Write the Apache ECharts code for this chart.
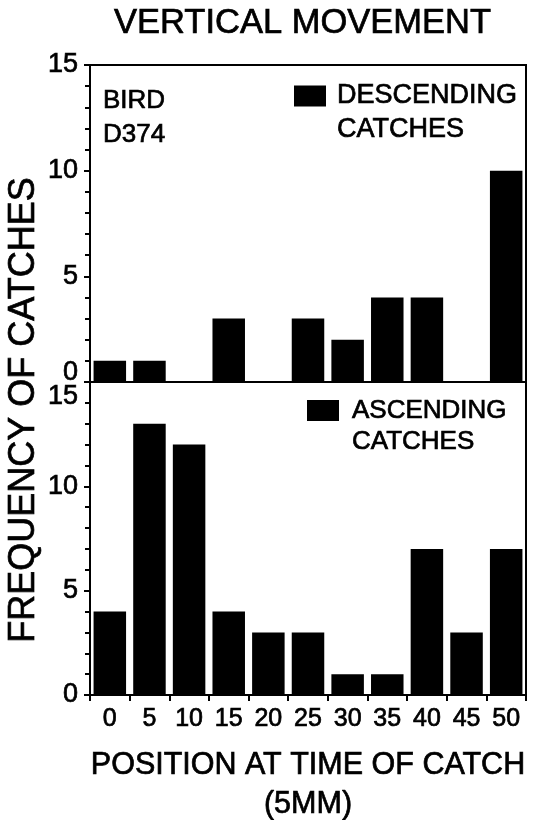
<!DOCTYPE html>
<html><head><meta charset="utf-8">
<script src="https://cdn.jsdelivr.net/npm/echarts@6/dist/echarts.min.js"></script>
<style>html,body{margin:0;padding:0;background:#fff}#c{width:534px;height:820px}</style>
</head><body><div id="c"></div>
<script>
// ---- data ----
const categories = ['0','5','10','15','20','25','30','35','40','45','50'];
const descendingCatches = [1,1,0,3,0,3,2,4,4,0,10];
const ascendingCatches = [4,13,12,4,3,3,1,1,7,3,7];
const yMin = 0, yMax = 15, yStep = 5;

const F = '"Liberation Sans", Arial, Helvetica, sans-serif';
const ink = '#000';
const heavy = {textBorderColor:ink, textBorderWidth:0.7};

function yAxisFor(grid, special, pad) {
  return {
    type:'value', gridIndex:grid, min:yMin, max:yMax, interval:yStep,
    axisLine:{show:true, lineStyle:{color:ink, width:2}},
    axisTick:{show:true, length:6, lineStyle:{color:ink, width:2}},
    minorTick:{show:true, splitNumber:5, length:5, lineStyle:{color:ink, width:2}},
    splitLine:{show:false},
    axisLabel:Object.assign({
      fontFamily:F, fontSize:27, color:ink, margin:12,
      formatter: v => v === special ? '{s|' + v + '}' : String(v),
      rich:{s:Object.assign({fontFamily:F, fontSize:27, color:ink, padding:pad}, heavy)}
    }, heavy)
  };
}

const chart = echarts.init(document.getElementById('c'), null, {renderer:'canvas'});
chart.setOption({
  animation:false,
  backgroundColor:'#fff',
  title:[
    {text:'VERTICAL MOVEMENT', left:114, top:6, padding:0,
     textStyle:Object.assign({fontFamily:F, fontSize:34.5, fontWeight:'normal', color:ink}, heavy)},
    {text:'BIRD\nD374', left:103, top:84, padding:0,
     textStyle:Object.assign({fontFamily:F, fontSize:26, fontWeight:'normal', color:ink, lineHeight:34}, heavy)}
  ],
  legend:[
    {data:['DESCENDING'], left:294, top:45, padding:0, icon:'rect', itemWidth:32, itemHeight:21,
     formatter:() => ' \nDESCENDING\nCATCHES',
     textStyle:Object.assign({fontFamily:F, fontSize:27, color:ink, lineHeight:34, padding:[0,0,0,6]}, heavy)},
    {data:['ASCENDING'], left:307, top:364, padding:0, icon:'rect', itemWidth:32, itemHeight:21,
     formatter:() => ' \nASCENDING\nCATCHES',
     textStyle:Object.assign({fontFamily:F, fontSize:26, color:ink, lineHeight:31, padding:[0,0,0,8]}, heavy)}
  ],
  grid:[
    {left:90, right:8, top:65, height:317, show:true, borderColor:ink, borderWidth:2, outerBoundsMode:'none'},
    {left:90, right:8, top:382, height:313, show:true, borderColor:ink, borderWidth:2, outerBoundsMode:'none'}
  ],
  xAxis:[
    {type:'category', gridIndex:0, data:categories,
     axisLine:{lineStyle:{color:ink, width:2}}, axisTick:{show:false}, axisLabel:{show:false}},
    {type:'category', gridIndex:1, data:categories,
     axisLine:{lineStyle:{color:ink, width:2}},
     axisTick:{show:true, length:6, lineStyle:{color:ink, width:2}},
     axisLabel:Object.assign({fontFamily:F, fontSize:25, color:ink, margin:12}, heavy),
     name:'POSITION AT TIME OF CATCH\n(5MM)', nameLocation:'middle', nameGap:51,
     nameTextStyle:Object.assign({fontFamily:F, fontSize:30.5, color:ink, lineHeight:39}, heavy)}
  ],
  yAxis:[
    yAxisFor(0, 0, [0,0,18,0]),
    yAxisFor(1, 15, [30,0,0,0])
  ],
  graphic:[
    {type:'text', x:24, y:410, rotation:Math.PI/2,
     style:{text:'FREQUENCY OF CATCHES', fontFamily:F, fontSize:36, fill:ink,
            stroke:ink, lineWidth:0.7, align:'center', verticalAlign:'middle'}}
  ],
  series:[
    {name:'DESCENDING', type:'bar', xAxisIndex:0, yAxisIndex:0, data:descendingCatches,
     barCategoryGap:'18%', itemStyle:{color:ink}},
    {name:'ASCENDING', type:'bar', xAxisIndex:1, yAxisIndex:1, data:ascendingCatches,
     barCategoryGap:'18%', itemStyle:{color:ink}}
  ]
});
</script></body></html>
